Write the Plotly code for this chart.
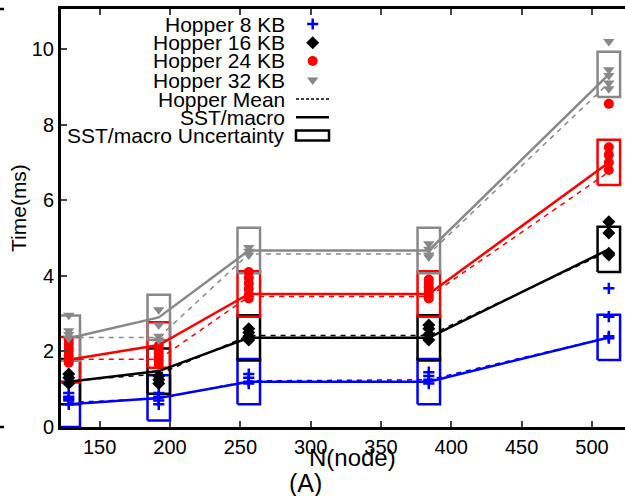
import plotly.graph_objects as go

# ---------------- data ----------------
nodes = [128, 192, 256, 384, 512]

series_names = ["Hopper 8 KB", "Hopper 16 KB", "Hopper 24 KB", "Hopper 32 KB"]

# SST/macro predictions (solid lines, box centres)
sst_8 = [0.60, 0.77, 1.20, 1.20, 2.37]
sst_16 = [1.20, 1.48, 2.36, 2.36, 4.70]
sst_24 = [1.78, 2.17, 3.52, 3.52, 7.00]
sst_32 = [2.35, 2.90, 4.67, 4.67, 9.33]
sst_unc = 0.6  # +/- uncertainty

# Hopper mean (dashed lines)
mean_8 = [0.65, 0.75, 1.22, 1.25, 2.37]
mean_16 = [1.22, 1.40, 2.42, 2.42, 4.65]
mean_24 = [1.79, 1.79, 3.45, 3.45, 6.75]
mean_32 = [2.37, 2.37, 4.58, 4.58, 9.10]

# Hopper measurements (scatter), per node count
hop_8 = [[0.60, 0.70, 0.75, 0.80, 0.90], [0.60, 0.70, 0.80, 0.90], [1.15, 1.20, 1.30, 1.40],
         [1.15, 1.25, 1.35, 1.45], [2.35, 2.40, 2.92, 3.67]]
hop_16 = [[1.15, 1.30, 1.40], [1.15, 1.25, 1.35], [2.30, 2.40, 2.50, 2.60],
          [2.30, 2.45, 2.60, 2.70], [4.55, 4.60, 5.13, 5.43]]
hop_24 = [[1.70, 1.80, 1.90, 2.00, 2.10, 2.20, 2.30], [1.65, 1.75, 1.85, 1.95, 2.05, 2.15],
          [3.40, 3.50, 3.65, 3.80, 3.95, 4.10], [3.40, 3.50, 3.60, 3.70, 3.80, 3.90],
          [6.80, 7.00, 7.20, 7.40, 8.55]]
hop_32 = [[2.35, 2.45, 2.55, 2.96], [2.30, 2.40, 2.70, 3.10], [4.55, 4.65, 4.75],
          [4.50, 4.55, 4.70, 4.85], [8.95, 9.10, 9.30, 9.45, 10.20]]

x_ticks = [150, 200, 250, 300, 350, 400, 450, 500]
y_ticks = [0, 2, 4, 6, 8, 10]

legend_labels = ["Hopper 8 KB", "Hopper 16 KB", "Hopper 24 KB", "Hopper 32 KB",
                 "Hopper Mean", "SST/macro", "SST/macro Uncertainty"]

# ---------------- styles ----------------
colors = ["#0000ff", "#000000", "#ff0000", "#888888"]
symbols = ["cross-thin", "diamond", "circle", "triangle-down"]
msizes = [8, 10, 10, 10]
FONT = "Liberation Sans, Arial, sans-serif"
W, H = 625, 496
L, R, T, B = 61, 625, 9, 427   # plot area in pixels
BOX_HALF = 8  # half box width in x units

def px(x):
    return (x - L) / (R - L)

def py(y):
    return (B - y) / (B - T)

fig = go.Figure()

sst_all = [sst_8, sst_16, sst_24, sst_32]
mean_all = [mean_8, mean_16, mean_24, mean_32]
hop_all = [hop_8, hop_16, hop_24, hop_32]

def marker(sym, size, c):
    if sym == "cross-thin":
        return dict(symbol=sym, size=size, color=c, line=dict(color=c, width=2.5))
    return dict(symbol=sym, size=size, color=c, line=dict(width=0))

# uncertainty boxes
for c, sst in zip(colors, sst_all):
    bx, by = [], []
    for n, v in zip(nodes, sst):
        bx += [n - BOX_HALF, n + BOX_HALF, n + BOX_HALF, n - BOX_HALF, n - BOX_HALF, None]
        by += [v - sst_unc, v - sst_unc, v + sst_unc, v + sst_unc, v - sst_unc, None]
    fig.add_trace(go.Scatter(x=bx, y=by, mode="lines", line=dict(color=c, width=2.5),
                             showlegend=False, hoverinfo="skip"))

# mean dashed lines
for c, m in zip(colors, mean_all):
    fig.add_trace(go.Scatter(x=nodes, y=m, mode="lines",
                             line=dict(color=c, width=1.5, dash="5px,5px"),
                             showlegend=False))

# SST solid lines
for c, s in zip(colors, sst_all):
    fig.add_trace(go.Scatter(x=nodes, y=s, mode="lines", line=dict(color=c, width=2.5),
                             showlegend=False))

# hopper scatter
for name, c, sym, ms, hop in zip(series_names, colors, symbols, msizes, hop_all):
    xs, ys = [], []
    for n, vals in zip(nodes, hop):
        xs += [n] * len(vals)
        ys += vals
    fig.add_trace(go.Scatter(x=xs, y=ys, mode="markers", marker=marker(sym, ms, c), name=name,
                             showlegend=False))

# ---------------- custom legend (text right, symbol at right) ----------------
leg_y = [24, 42.7, 61, 80, 99, 117.3, 135.3]
text_right = 287
sym_x = 312.7
annotations = []
for lab, yy in zip(legend_labels, leg_y):
    annotations.append(dict(text=lab, xref="paper", yref="paper", x=px(text_right), y=py(yy),
                            xanchor="right", yanchor="middle", showarrow=False,
                            font=dict(family=FONT, size=21, color="black")))
for i, (c, sym) in enumerate(zip(colors, symbols)):
    fig.add_trace(go.Scatter(x=[sym_x], y=[leg_y[i]], xaxis="x2", yaxis="y2", mode="markers",
                             marker=marker(sym, msizes[i], c), showlegend=False,
                             hoverinfo="skip"))

shapes = [
    dict(type="line", xref="paper", yref="paper", x0=px(296), x1=px(329), y0=py(99), y1=py(99),
         line=dict(color="black", width=1.5, dash="3px,2px")),
    dict(type="line", xref="paper", yref="paper", x0=px(296), x1=px(329), y0=py(117.3), y1=py(117.3),
         line=dict(color="black", width=2.5)),
    dict(type="rect", xref="paper", yref="paper", x0=px(296), x1=px(329), y0=py(130.5), y1=py(140.5),
         line=dict(color="black", width=2.5)),
    # stray frame marks of neighbouring panel at far left
    dict(type="line", xref="paper", yref="paper", x0=px(0), x1=px(4), y0=py(9), y1=py(9),
         line=dict(color="black", width=2.5)),
    dict(type="line", xref="paper", yref="paper", x0=px(0), x1=px(4), y0=py(427), y1=py(427),
         line=dict(color="black", width=2.5)),
]

annotations += [
    dict(text="N(node)", xref="paper", yref="paper", x=px(352), y=py(458), xanchor="center",
         yanchor="middle", showarrow=False, font=dict(family=FONT, size=24, color="black")),
    dict(text="(A)", xref="paper", yref="paper", x=px(305), y=py(483), xanchor="center",
         yanchor="middle", showarrow=False, font=dict(family=FONT, size=25, color="black")),
    dict(text="Time(ms)", xref="paper", yref="paper", x=px(18), y=py(208), xanchor="center",
         yanchor="middle", showarrow=False, textangle=-90,
         font=dict(family=FONT, size=21, color="black")),
]

fig.update_layout(
    width=W, height=H,
    margin=dict(l=L, r=W - R, t=T, b=H - B),
    paper_bgcolor="white", plot_bgcolor="white",
    showlegend=False,
    font=dict(family=FONT, size=20, color="black"),
    xaxis=dict(range=[122.5, 523.5], tickvals=x_ticks, ticks="inside", ticklen=6, tickwidth=2,
               showline=True, linecolor="black", linewidth=3, mirror="ticks",
               showgrid=False, zeroline=False, tickfont=dict(size=20, family=FONT)),
    yaxis=dict(range=[0, 11.06], tickvals=y_ticks, ticks="inside", ticklen=6, tickwidth=2,
               showline=True, linecolor="black", linewidth=3, mirror=False,
               showgrid=False, zeroline=False, tickfont=dict(size=20, family=FONT)),
    xaxis2=dict(range=[L, R], overlaying="x", visible=False, fixedrange=True),
    yaxis2=dict(range=[B, T], overlaying="y", visible=False, fixedrange=True),
    annotations=annotations,
    shapes=shapes,
)

fig.write_html("out.html")
